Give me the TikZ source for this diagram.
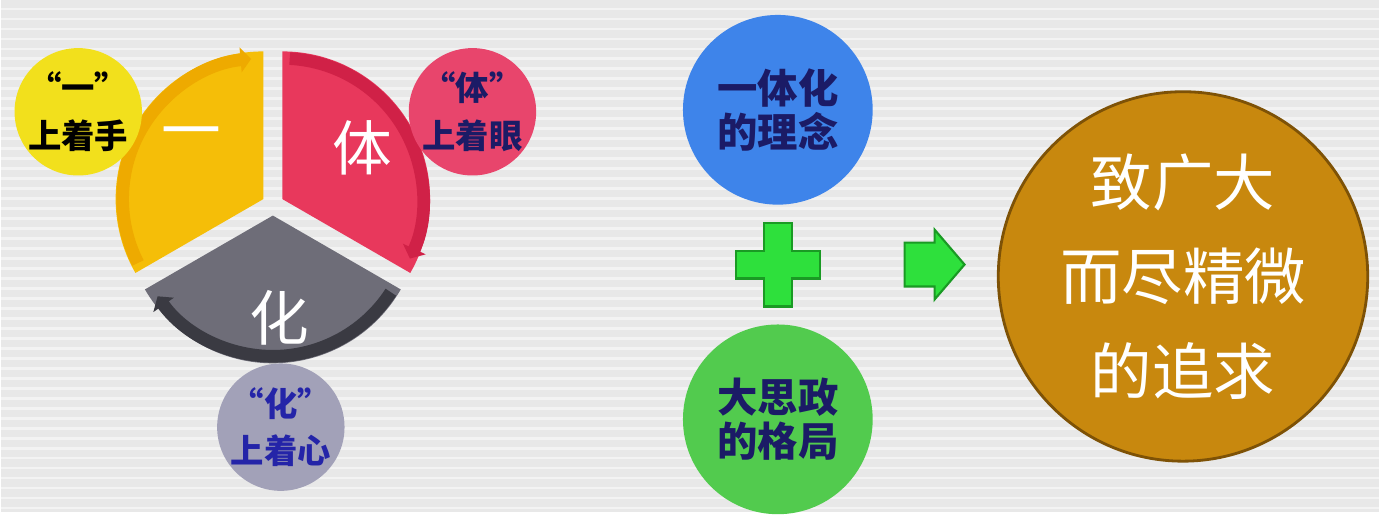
\documentclass[tikz,border=0pt]{standalone}
\usepackage{fontspec}
\newfontfamily\cjk{Noto Sans CJK SC}
\usetikzlibrary{positioning, arrows.meta}

\definecolor{bg}{HTML}{E8E8E8}
\definecolor{segyellow}{HTML}{F5BE08}
\definecolor{bandyellow}{HTML}{EEAA00}
\definecolor{segred}{HTML}{E8385C}
\definecolor{bandred}{HTML}{D02147}
\definecolor{seggray}{HTML}{6E6D78}
\definecolor{bandgray}{HTML}{3A3A42}
\definecolor{noteyellow}{HTML}{F2E01C}
\definecolor{notered}{HTML}{E8456C}
\definecolor{notegray}{HTML}{A2A1B8}
\definecolor{navy}{HTML}{1B1B66}
\definecolor{noteblue}{HTML}{2424A8}
\definecolor{ideablue}{HTML}{3E84EA}
\definecolor{ideagreen}{HTML}{52CB4E}
\definecolor{signgreen}{HTML}{2EE03C}
\definecolor{signrim}{HTML}{1A9A24}
\definecolor{goalorange}{HTML}{C8880E}
\definecolor{goalrim}{HTML}{7E5206}

\begin{document}
\begin{tikzpicture}[x=0.01cm, y=0.01cm, node distance = 1.55cm,
	note/.style = {circle, minimum size=1.26cm, inner sep=0pt, align=center,
		font=\cjk\bfseries\fontsize{9.5pt}{13.5pt}\selectfont},
	idea/.style = {circle, minimum size=1.9cm, inner sep=0pt, align=center, text=navy,
		font=\cjk\bfseries\fontsize{11.5pt}{12.5pt}\selectfont},
	goal/.style = {circle, minimum size=3.7cm, inner sep=0pt, align=center, text=white,
		fill=goalorange, draw=goalrim, line width=0.8pt,
		font=\cjk\fontsize{17.5pt}{27pt}\selectfont},
	seglabel/.style = {text=white, font=\cjk\fontsize{17pt}{17pt}\selectfont},
	band/.style = {line width=3.6pt, -{Triangle[length=3pt, width=7pt]}},
	sign/.style = {fill=signgreen, draw=signrim, line width=0.6pt}]
			% background
			\fill[bg] (0,0) rectangle (1380,513);
			\foreach \y in {4,14,...,513}
				\draw[white, opacity=0.5, line width=0.8pt] (0,\y) -- (1380,\y);
			
			% wheel
			\begin{scope}[shift={(272,308)}]
				\begin{scope}[shift={(150:11)}]
					\fill[segyellow] (0,0) -- (90:148) arc[start angle=90, end angle=210, radius=148] -- cycle;
					\draw[band, bandyellow] (207:141) arc[start angle=207, end angle=95, radius=141];
				\end{scope}
				\begin{scope}[shift={(30:11)}]
					\fill[segred] (0,0) -- (90:148) arc[start angle=90, end angle=-30, radius=148] -- cycle;
					\draw[band, bandred] (87:141) arc[start angle=87, end angle=-25, radius=141];
				\end{scope}
				\begin{scope}[shift={(270:11)}]
					\fill[seggray] (0,0) -- (-30:148) arc[start angle=-30, end angle=-150, radius=148] -- cycle;
					\draw[band, bandgray] (-33:141) arc[start angle=-33, end angle=-145, radius=141];
				\end{scope}
			\end{scope}
			\node[seglabel] (yi) at (190,373) {一};
			\node[seglabel] (ti) at (362,365) {体};
			\node[seglabel] (hua) at (278,195) {化};
			
			\node[note, fill=noteyellow] (yiq) at (77,401) {“一”\\上着手};
			\node[note, fill=notered, text=navy] (tiq) at (472,401) {“体”\\上着眼};
			\node[note, fill=notegray, text=noteblue] (huaq) at (280,85) {“化”\\上着心};
			
			% right part
			\node[idea, fill=ideablue] (lin) at (778,403) {一体化\\的理念};
			\coordinate[below of = lin] (plus);
			\node[idea, fill=ideagreen, below of = plus] (ge) {大思政\\的格局};
			\coordinate[right = 1.57cm of plus] (go);
			\node[goal] (aim) at (1184,236) {致广大\\而尽精微\\的追求};
			
			\draw[sign] (plus) ++(-14,42) -- ++(28,0) -- ++(0,-28) -- ++(28,0) -- ++(0,-28) -- ++(-28,0)
				-- ++(0,-28) -- ++(-28,0) -- ++(0,28) -- ++(-28,0) -- ++(0,28) -- ++(28,0) -- cycle;
			\draw[sign] (go) ++(-30,22) -- ++(30,0) -- ++(0,13) -- ++(30,-35) -- ++(-30,-35) -- ++(0,13)
				-- ++(-30,0) -- cycle;
		\end{tikzpicture}
\end{document}
